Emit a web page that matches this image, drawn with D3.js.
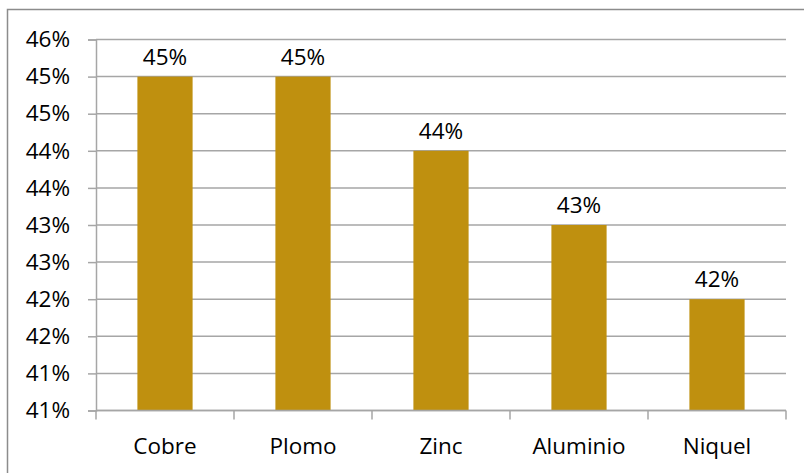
<!DOCTYPE html>
<html>
<head>
<meta charset="utf-8">
<script src="https://cdn.jsdelivr.net/npm/d3@7/dist/d3.min.js"></script>
<style>
  html, body { margin: 0; padding: 0; background: #ffffff; }
  svg { display: block; }
  text { font-family: "Open Sans", "Noto Sans", sans-serif; fill: #000; }
</style>
</head>
<body>
<svg id="chart" width="804" height="473"></svg>
<script>
// Metal share by category
const categories = ["Cobre", "Plomo", "Zinc", "Aluminio", "Niquel"];
const values = [45, 45, 44, 43, 42];
const yTicks = [40.5, 41, 41.5, 42, 42.5, 43, 43.5, 44, 44.5, 45, 45.5];

const svg = d3.select("#chart");
const W = 804, H = 473;
const plot = { left: 96, right: 786, top: 39.5, bottom: 410.5 };
const barColor = "#BF900F";
const gridColor = "#a6a6a6";
const fontSize = 22.5;

// Outer chart frame (clipped by the page at right and bottom)
svg.append("rect")
  .attr("x", 7.5).attr("y", 9.5)
  .attr("width", W).attr("height", H)
  .attr("fill", "none")
  .attr("stroke", "#8c8c8c")
  .attr("stroke-width", 1.5);

const y = d3.scaleLinear()
  .domain([d3.min(yTicks), d3.max(yTicks)])
  .range([plot.bottom, plot.top]);

const x = d3.scaleBand()
  .domain(categories)
  .range([plot.left, plot.right])
  .paddingInner(0.6)
  .paddingOuter(0.3);

// Horizontal gridlines
svg.append("g")
  .selectAll("line")
  .data(yTicks)
  .join("line")
  .attr("x1", plot.left).attr("x2", plot.right)
  .attr("y1", d => y(d)).attr("y2", d => y(d))
  .attr("stroke", gridColor)
  .attr("stroke-width", 1.5);

// Y axis with rounded percent labels
const yAxis = d3.axisLeft(y)
  .tickValues(yTicks)
  .tickSize(8)
  .tickPadding(18)
  .tickFormat(d => Math.round(d) + "%");

const gy = svg.append("g")
  .attr("transform", `translate(${plot.left},0)`)
  .call(yAxis);
gy.select(".domain").attr("stroke", gridColor).attr("stroke-width", 1.5);
gy.selectAll(".tick line").attr("stroke", gridColor).attr("stroke-width", 1.5);
gy.selectAll(".tick text")
  .attr("font-size", fontSize)
  .attr("font-family", "'Open Sans', sans-serif")
  .attr("fill", "#000");

// Bars
svg.append("g")
  .selectAll("rect")
  .data(categories)
  .join("rect")
  .attr("x", d => x(d))
  .attr("width", x.bandwidth())
  .attr("y", (d, i) => y(values[i]))
  .attr("height", (d, i) => plot.bottom - y(values[i]))
  .attr("fill", barColor);

// X axis with ticks between categories
const xBoundaries = d3.range(categories.length + 1)
  .map(i => plot.left + i * x.step());

const gx = svg.append("g");
gx.append("line")
  .attr("x1", plot.left).attr("x2", plot.right)
  .attr("y1", plot.bottom).attr("y2", plot.bottom)
  .attr("stroke", gridColor).attr("stroke-width", 1.5);
gx.selectAll("line.tick")
  .data(xBoundaries)
  .join("line")
  .attr("class", "tick")
  .attr("x1", d => d).attr("x2", d => d)
  .attr("y1", plot.bottom).attr("y2", plot.bottom + 9)
  .attr("stroke", gridColor).attr("stroke-width", 1.5);
gx.selectAll("text")
  .data(categories)
  .join("text")
  .attr("x", d => x(d) + x.bandwidth() / 2)
  .attr("y", 454)
  .attr("text-anchor", "middle")
  .attr("font-size", fontSize)
  .text(d => d);

// Value labels above bars
svg.append("g")
  .selectAll("text")
  .data(categories)
  .join("text")
  .attr("x", d => x(d) + x.bandwidth() / 2)
  .attr("y", (d, i) => y(values[i]) - 12)
  .attr("text-anchor", "middle")
  .attr("font-size", fontSize)
  .text((d, i) => values[i] + "%");
</script>
</body>
</html>
